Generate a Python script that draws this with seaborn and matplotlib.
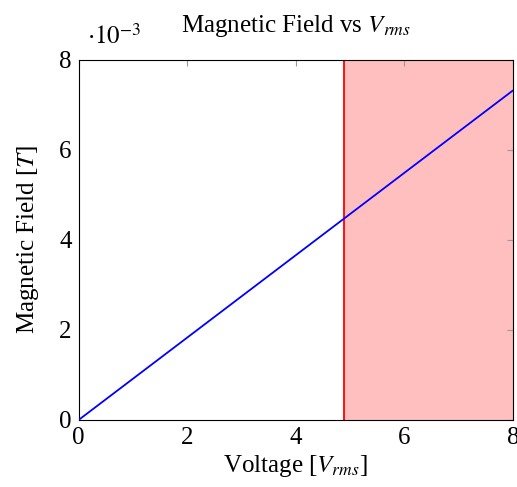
import matplotlib
matplotlib.use("Agg")
import matplotlib.pyplot as plt
import seaborn as sns
import pandas as pd
from matplotlib.ticker import FuncFormatter, MultipleLocator

voltage = [0.0, 8.0]
field = [0.0, 7.32e-3]
threshold = 4.89
x_limits = [0, 8]
y_limits = [0, 8e-3]

sns.set_theme(style="white")
plt.rcParams['font.family'] = ['Liberation Serif', 'DejaVu Serif']
plt.rcParams['mathtext.fontset'] = 'stix'
plt.rcParams['text.color'] = 'black'
plt.rcParams['axes.labelcolor'] = 'black'

fig = plt.figure(figsize=(5.17, 4.87), dpi=100)
ax = fig.add_axes([0.152, 0.1376, 0.84, 0.7394])

df = pd.DataFrame({"Voltage": voltage, "Field": field})
ax.axvspan(threshold, x_limits[1], color="#ffbfbf", lw=0, zorder=0)
ax.axvline(threshold, color="#ff0000", lw=1.3, zorder=2)
sns.lineplot(data=df, x="Voltage", y="Field", color="#0000ff", lw=1.3, ax=ax, zorder=3)

ax.set_xlim(*x_limits)
ax.set_ylim(*y_limits)
ax.xaxis.set_major_locator(MultipleLocator(2))
ax.yaxis.set_major_locator(MultipleLocator(2e-3))
ax.yaxis.set_major_formatter(FuncFormatter(lambda v, p: f"{v*1e3:.0f}"))
ax.tick_params(direction="in", length=4, width=0.8, color="#999999",
               labelsize=18, top=True, right=True, pad=5, labelcolor="black")
for s in ax.spines.values():
    s.set_color("black")
    s.set_linewidth(0.8)

ax.set_xlabel(r"Voltage [$V_{rms}$]", fontsize=18, labelpad=3, color="black")
ax.set_ylabel(r"Magnetic Field [$T$]", fontsize=18, labelpad=13, color="black")
ax.set_title(r"Magnetic Field vs $V_{rms}$", fontsize=18, pad=20, color="black")
ax.text(0.02, 1.03, r"$\cdot 10^{-3}$", transform=ax.transAxes, fontsize=18,
        ha="left", va="bottom", color="black")

fig.savefig("out.png", dpi=100)
